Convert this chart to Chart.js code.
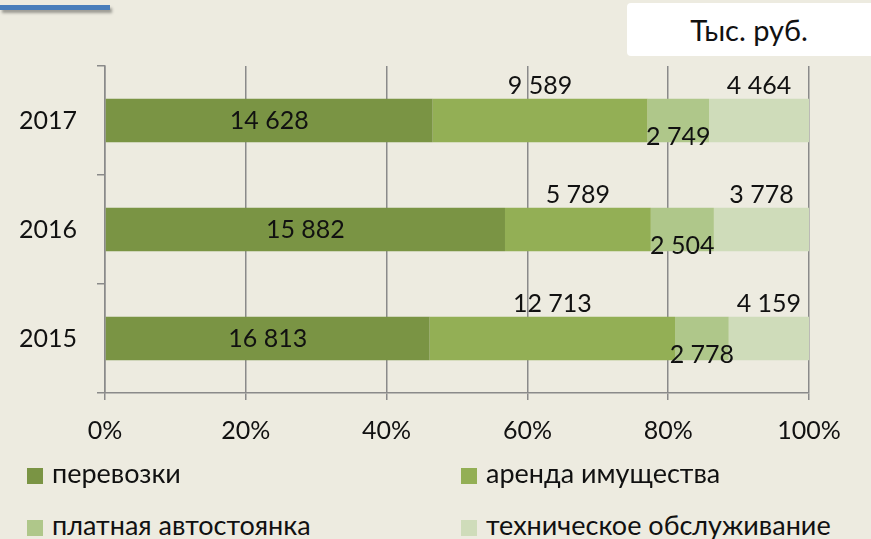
<!DOCTYPE html>
<html>

<head>
  <meta charset="utf-8">
  <title>Структура доходов</title>
  <script src="https://cdn.jsdelivr.net/npm/chart.js@4.4.0/dist/chart.umd.min.js"></script>
  <style>
    body { margin: 0; background: #EDEBE0; font-family: Lato, sans-serif; }
    #wrap { position: relative; width: 871px; height: 539px; overflow: hidden; }
    #chart { position: absolute; left: 0; top: 0; }
    #topline {
      position: absolute; left: 0; top: 5px; width: 110px; height: 5px;
      background: #4A7EBB; box-shadow: 2px 3px 3px rgba(0, 0, 0, 0.35);
    }
    #units {
      position: absolute; left: 627px; top: 3px; width: 250px; height: 53px;
      background: #fff; border-radius: 4px; font-size: 29px; color: #111;
      line-height: 53px;
    }
    #units div { width: 244px; text-align: center; }
    .leg { position: absolute; font-size: 27px; color: #111; line-height: 32px; white-space: nowrap; }
    .leg span { display: inline-block; width: 16px; height: 16px; vertical-align: -1px; margin-right: 9px; }
  </style>
</head>

<body>
  <div id="wrap">
    <div id="topline"></div>
    <div id="units"><div>Тыс. руб.</div></div>
    <canvas id="chart" width="871" height="460"></canvas>
    <div id="legend"></div>
  </div>

  <script>
    // данные (тыс. руб.)
    const years = ['2017', '2016', '2015'];
    const seriesNames = ['перевозки', 'аренда имущества', 'платная автостоянка', 'техническое обслуживание'];
    const seriesColors = ['#7A9444', '#93AF55', '#AFC78A', '#CFDCBA'];
    const labelPlaces = ['center', 'above', 'below', 'above'];

    const perevozki = [14628, 15882, 16813];
    const arenda = [9589, 5789, 12713];
    const stoyanka = [2749, 2504, 2778];
    const obsluzh = [4464, 3778, 4159];

    const xTicks = [0, 20, 40, 60, 80, 100];

    const allSeries = [perevozki, arenda, stoyanka, obsluzh];
    const totals = years.map((y, i) => allSeries.reduce((s, arr) => s + arr[i], 0));

    function fmt(v) {
      return String(v).replace(/\B(?=(\d{3})+(?!\d))/g, ' ');
    }

    const datasets = allSeries.map((arr, k) => ({
      label: seriesNames[k],
      data: arr.map((v, i) => v / totals[i] * 100),
      raw: arr,
      place: labelPlaces[k],
      backgroundColor: seriesColors[k],
      borderWidth: 0,
      barPercentage: 0.4,
      categoryPercentage: 1.0,
    }));

    // подписи значений
    const valueLabels = {
      id: 'valueLabels',
      afterDatasetsDraw(chart) {
        const ctx = chart.ctx;
        ctx.save();
        ctx.font = '25px Lato';
        ctx.fillStyle = '#111';
        ctx.textAlign = 'center';
        ctx.textBaseline = 'middle';
        chart.data.datasets.forEach((ds, k) => {
          const meta = chart.getDatasetMeta(k);
          meta.data.forEach((bar, i) => {
            const cx = (bar.x + bar.base) / 2;
            const top = bar.y - bar.height / 2;
            const bottom = bar.y + bar.height / 2;
            let cy = bar.y;
            if (ds.place === 'above') cy = top - 13;
            if (ds.place === 'below') cy = bottom - 5;
            ctx.fillText(fmt(ds.raw[i]), cx, cy);
          });
        });
        ctx.restore();
      }
    };

    new Chart(document.getElementById('chart'), {
      type: 'bar',
      data: { labels: years, datasets: datasets },
      options: {
        indexAxis: 'y',
        responsive: false,
        animation: false,
        layout: { padding: { left: 0, top: 66, right: 62, bottom: 0 } },
        plugins: { legend: { display: false }, tooltip: { enabled: false } },
        scales: {
          x: {
            stacked: true,
            min: 0,
            max: 100,
            afterFit(scale) { scale.height = 67; },
            afterBuildTicks(scale) { scale.ticks = xTicks.map(v => ({ value: v })); },
            border: { color: '#8a8a8a', width: 1.5 },
            grid: { color: '#8a8a8a', lineWidth: 1.5, tickLength: 7 },
            ticks: {
              padding: 16,
              color: '#111',
              font: { family: 'Lato', size: 25 },
              callback: v => v + '%',
            },
          },
          y: {
            stacked: true,
            afterFit(scale) { scale.width = 105; },
            border: { color: '#8a8a8a', width: 1.5 },
            grid: { drawOnChartArea: false, offset: true, color: '#8a8a8a', lineWidth: 1.5, tickLength: 8 },
            ticks: {
              padding: 20,
              color: '#111',
              font: { family: 'Lato', size: 25 },
            },
          },
        },
      },
      plugins: [valueLabels],
    });

    // легенда в две колонки
    const legend = document.getElementById('legend');
    const legPos = [[27, 457], [461, 457], [27, 509], [461, 509]];
    seriesNames.forEach((name, k) => {
      const d = document.createElement('div');
      d.className = 'leg';
      d.style.left = legPos[k][0] + 'px';
      d.style.top = legPos[k][1] + 'px';
      d.innerHTML = '<span style="background:' + seriesColors[k] + '"></span>' + name;
      legend.appendChild(d);
    });
  </script>
</body>

</html>
